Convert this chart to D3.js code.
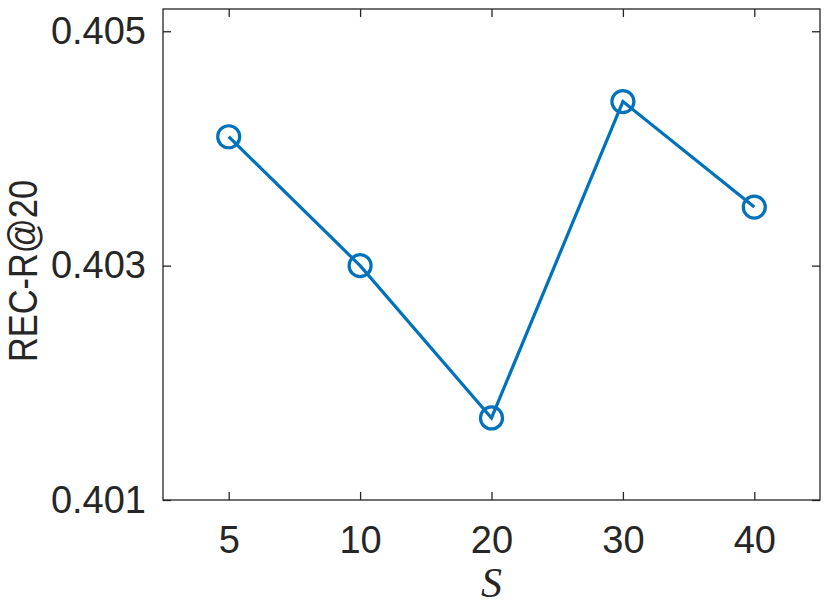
<!DOCTYPE html>
<html><head><meta charset="utf-8">
<script src="https://cdn.jsdelivr.net/npm/d3@7"></script>
<style>body{margin:0;background:#fff}</style>
</head><body>
<script>
const categories = ["5","10","20","30","40"];
const values = [0.4041, 0.4030, 0.4017, 0.4044, 0.4035];
const yTicks = [0.401, 0.403, 0.405];
const yDomain = [0.401, 0.40519];

const W = 830, H = 609;
const L = 163, R = 820, T = 9, B = 500;
const svg = d3.select("body").append("svg").attr("width", W).attr("height", H);

const x = d3.scalePoint().domain(categories).range([L, R]).padding(0.5);
const y = d3.scaleLinear().domain(yDomain).range([B, T]);

const axisColor = "#262626";
const font = "'Liberation Sans', Arial, Helvetica, sans-serif";

// box
svg.append("rect").attr("x", L).attr("y", T).attr("width", R - L).attr("height", B - T)
  .attr("fill", "none").attr("stroke", axisColor).attr("stroke-width", 1.3);

const tl = 8;
// x axis bottom
const xa = svg.append("g").attr("transform", `translate(0,${B})`)
  .call(d3.axisBottom(x).tickSize(-tl).tickPadding(26));
xa.select(".domain").remove();
xa.selectAll("line").attr("stroke", axisColor).attr("stroke-width", 1.3);
xa.selectAll("text").attr("fill", axisColor).style("font-family", font).style("font-size", "38px");
// x axis top ticks
const xt = svg.append("g").attr("transform", `translate(0,${T})`)
  .call(d3.axisTop(x).tickSize(-tl).tickFormat(""));
xt.select(".domain").remove();
xt.selectAll("line").attr("stroke", axisColor).attr("stroke-width", 1.3);

// y axis left
const ya = svg.append("g").attr("transform", `translate(${L},0)`)
  .call(d3.axisLeft(y).tickValues(yTicks).tickFormat(d3.format(".3f")).tickSize(-tl).tickPadding(17));
ya.select(".domain").remove();
ya.selectAll("line").attr("stroke", axisColor).attr("stroke-width", 1.3);
ya.selectAll("text").attr("fill", axisColor).style("font-family", font).style("font-size", "38px");
// y axis right ticks
const yr = svg.append("g").attr("transform", `translate(${R},0)`)
  .call(d3.axisRight(y).tickValues(yTicks).tickSize(-tl).tickFormat(""));
yr.select(".domain").remove();
yr.selectAll("line").attr("stroke", axisColor).attr("stroke-width", 1.3);

// labels
svg.append("text").attr("transform", `translate(37,271) rotate(-90) scale(0.86,1)`)
  .attr("text-anchor", "middle").attr("fill", axisColor)
  .style("font-family", font).style("font-size", "40px").text("REC-R@20");
svg.append("text").attr("x", (L + R) / 2).attr("y", 597)
  .attr("text-anchor", "middle").attr("fill", axisColor)
  .style("font-family", "'Liberation Serif', 'Times New Roman', serif").style("font-style", "italic")
  .style("font-size", "42px").text("S");

const data = categories.map((c, i) => ({c, v: values[i]}));
const color = "#0072BD";
svg.append("path").datum(data)
  .attr("d", d3.line().x(d => x(d.c)).y(d => y(d.v)))
  .attr("fill", "none").attr("stroke", color).attr("stroke-width", 3.2);
svg.selectAll("circle.m").data(data).enter().append("circle").attr("class", "m")
  .attr("cx", d => x(d.c)).attr("cy", d => y(d.v)).attr("r", 11)
  .attr("fill", "none").attr("stroke", color).attr("stroke-width", 3.2);
</script>
</body></html>
